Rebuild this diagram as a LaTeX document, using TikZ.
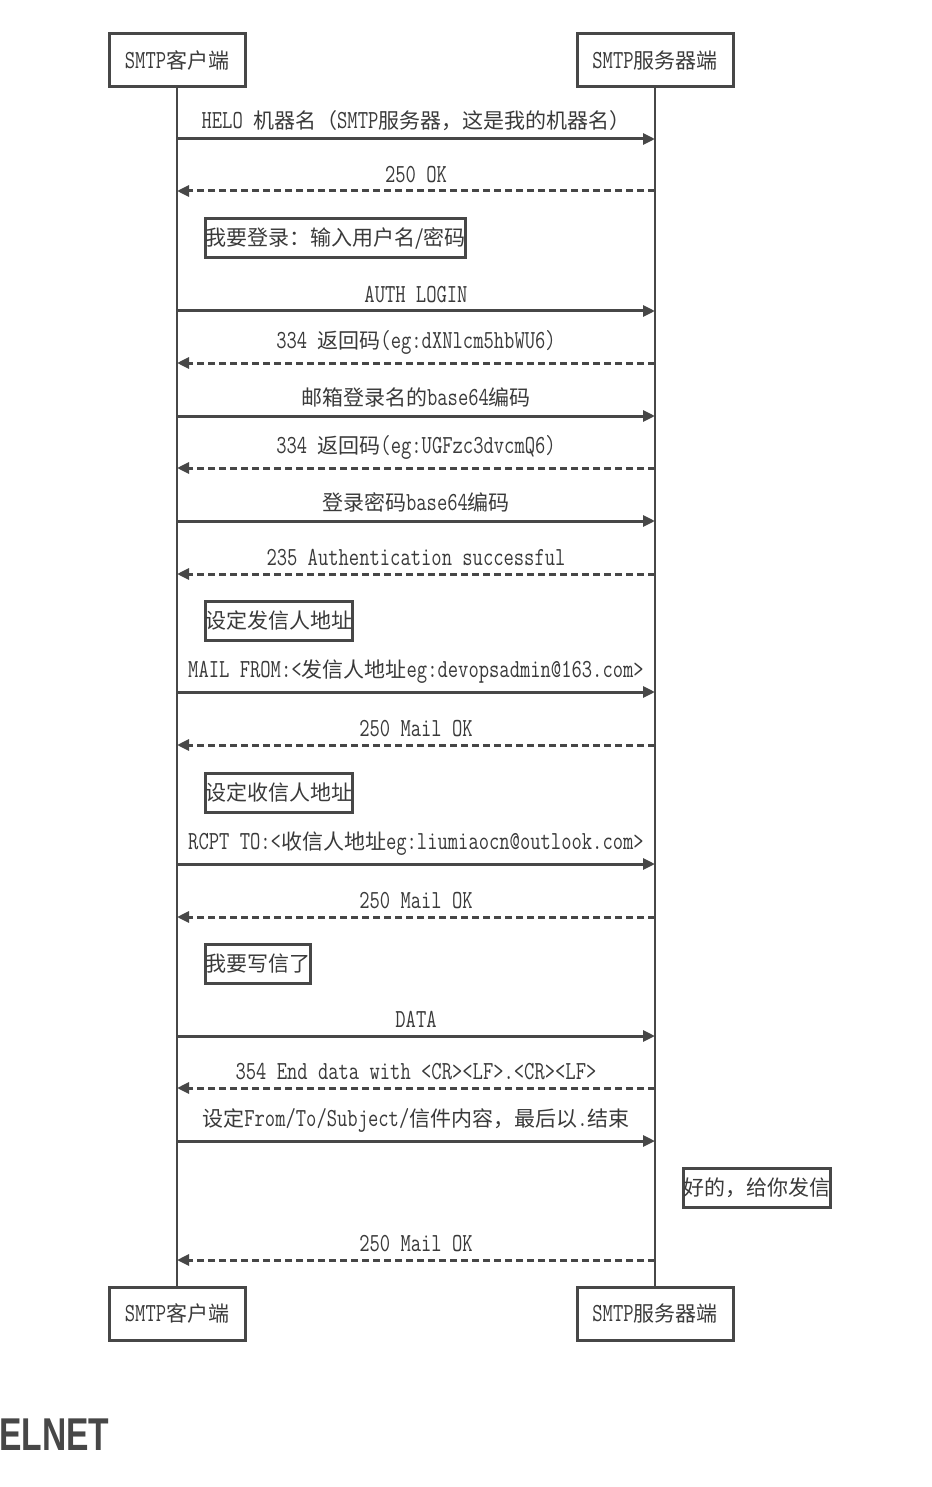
\documentclass[tikz,border=0pt]{standalone}
\usepackage{fontspec}
\setmonofont[Scale=1.3,FakeStretch=0.77]{Latin Modern Mono}
\newfontfamily\cjk[Scale=1.05]{Noto Sans CJK SC}
\newfontfamily\headfont[FakeStretch=0.73]{Liberation Sans}
\usetikzlibrary{arrows.meta}
\newcommand\zh[1]{{\cjk #1}}
\newcommand\labfont{\ttfamily\fontsize{20}{24}\selectfont}
\definecolor{linec}{HTML}{474747}
\definecolor{textc}{HTML}{3A3A3A}
\begin{document}
\begin{tikzpicture}[x=1pt,y=-1pt,
  actor/.style={draw=linec,line width=3pt,fill=white,minimum height=53pt,inner sep=0pt,font=\labfont,text=textc},
  notebox/.style={draw=linec,line width=3pt,fill=white,minimum height=39pt,inner xsep=0pt,inner ysep=0pt,anchor=west,font=\labfont,text=textc},
  life/.style={draw=linec,line width=2.4pt},
  req/.style={draw=linec,line width=3pt,-{Triangle[length=12pt,width=11pt]}},
  resp/.style={req,dash pattern=on 7pt off 4pt},
  lab/.style={midway,above=7pt,inner sep=0pt,font=\labfont,text=textc}]
\useasboundingbox (0,0) rectangle (931,1487);
\fill[white] (0,0) rectangle (931,1487);

% actors
\node[actor,minimum width=136pt] (ct) at (177,60.5) {SMTP\zh{客户端}};
\node[actor,minimum width=156pt] (st) at (655,60.5) {SMTP\zh{服务器端}};
\node[actor,minimum width=136pt] (cb) at (177,1313.5) {SMTP\zh{客户端}};
\node[actor,minimum width=156pt] (sb) at (655,1313.5) {SMTP\zh{服务器端}};
\draw[life] (ct) -- (cb);
\draw[life] (st) -- (sb);

% message end points
\foreach \n/\y in {1/139,2/191,3/311,4/363,5/416,6/468,7/521,8/574,9/692,10/745,11/864,12/917,13/1036,14/1088,15/1141,16/1260}{
  \coordinate (c\n) at (177,\y);
  \coordinate (s\n) at (655,\y);
}

\draw[req] (c1) -- (s1) node[lab] {HELO \zh{机器名（}SMTP\zh{服务器，这是我的机器名）}};
\draw[resp] (s2) -- (c2) node[lab] {250 OK};
\node[notebox] (n1) at (204,238.5) {\zh{我要登录：输入用户名/密码}};
\draw[req] (c3) -- (s3) node[lab] {AUTH LOGIN};
\draw[resp] (s4) -- (c4) node[lab] {334 \zh{返回码}(eg:dXNlcm5hbWU6)};
\draw[req] (c5) -- (s5) node[lab] {\zh{邮箱登录名的}base64\zh{编码}};
\draw[resp] (s6) -- (c6) node[lab] {334 \zh{返回码}(eg:UGFzc3dvcmQ6)};
\draw[req] (c7) -- (s7) node[lab] {\zh{登录密码}base64\zh{编码}};
\draw[resp] (s8) -- (c8) node[lab] {235 Authentication successful};
\node[notebox] (n2) at (204,620.5) {\zh{设定发信人地址}};
\draw[req] (c9) -- (s9) node[lab] {MAIL FROM:<\zh{发信人地址}eg:devopsadmin@163.com>};
\draw[resp] (s10) -- (c10) node[lab] {250 Mail OK};
\node[notebox] (n3) at (204,792.5) {\zh{设定收信人地址}};
\draw[req] (c11) -- (s11) node[lab] {RCPT TO:<\zh{收信人地址}eg:liumiaocn@outlook.com>};
\draw[resp] (s12) -- (c12) node[lab] {250 Mail OK};
\node[notebox] (n4) at (204,963.5) {\zh{我要写信了}};
\draw[req] (c13) -- (s13) node[lab] {DATA};
\draw[resp] (s14) -- (c14) node[lab] {354 End data with <CR><LF>.<CR><LF>};
\draw[req] (c15) -- (s15) node[lab] {\zh{设定}From/To/Subject/\zh{信件内容，最后以}.\zh{结束}};
\node[notebox] (n5) at (682,1187.5) {\zh{好的，给你发信}};
\draw[resp] (s16) -- (c16) node[lab] {250 Mail OK};

% heading fragment
\node[anchor=base west,inner sep=0pt,text=linec,font=\headfont\bfseries\fontsize{46}{50}\selectfont] (hd) at (-1,1450) {ELNET};
\end{tikzpicture}
\end{document}
